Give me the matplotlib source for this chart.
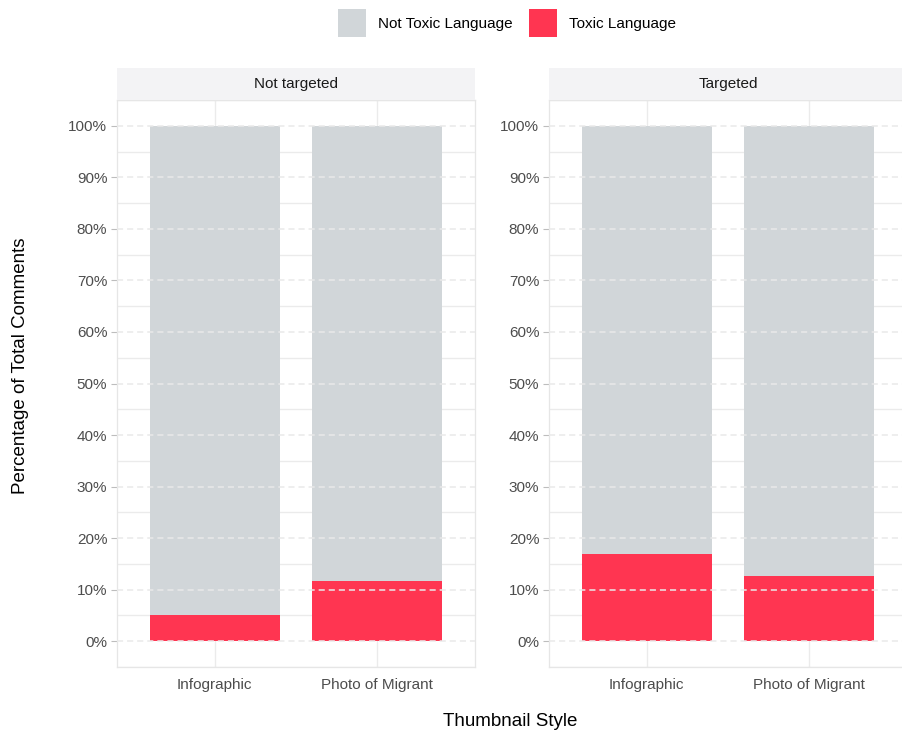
import matplotlib
matplotlib.use("Agg")
import matplotlib.pyplot as plt
from matplotlib.patches import Patch
from matplotlib.ticker import MultipleLocator, FuncFormatter

plt.rcParams["font.family"] = ["Liberation Sans", "DejaVu Sans"]

# share of comments per thumbnail style, in percent
styles = ["Infographic", "Photo of Migrant"]
panels = ["Not targeted", "Targeted"]
toxic = {"Not targeted": [5.0, 11.7], "Targeted": [16.9, 12.7]}
not_toxic = {"Not targeted": [95.0, 88.3], "Targeted": [83.1, 87.3]}

grey = "#d1d6d9"
red = "#ff3551"
W, H = 903, 735

fig = plt.figure(figsize=(W / 100, H / 100), dpi=100)

def px(x0, y0, x1, y1):
    # pixel box -> figure fraction rect
    return [x0 / W, 1 - y1 / H, (x1 - x0) / W, (y1 - y0) / H]

lefts = [117, 549]
for name, left in zip(panels, lefts):
    ax = fig.add_axes(px(left, 100, left + 358, 667))
    xs = [1, 2]
    ax.bar(xs, toxic[name], width=0.8, color=red, zorder=2)
    ax.bar(xs, not_toxic[name], bottom=toxic[name], width=0.8, color=grey, zorder=2)
    ax.set_xlim(0.4, 2.6)
    ax.set_ylim(-5, 105)
    ax.set_xticks(xs)
    ax.set_xticklabels(styles)
    ax.yaxis.set_major_locator(MultipleLocator(10))
    ax.yaxis.set_minor_locator(MultipleLocator(5))
    ax.yaxis.set_major_formatter(FuncFormatter(lambda v, p: f"{v:.0f}%"))
    ax.tick_params(axis="y", which="major", length=4, color="#bdbdbd",
                   labelsize=11, labelcolor="#4d4d4d", pad=3)
    ax.tick_params(axis="y", which="minor", length=0)
    ax.tick_params(axis="x", length=0, labelsize=11, labelcolor="#4d4d4d", pad=8)
    # solid minor + vertical grid under the bars
    ax.set_axisbelow(True)
    ax.grid(axis="y", which="minor", color="#ebebeb", lw=1)
    ax.grid(axis="x", which="major", color="#ebebeb", lw=1)
    # dashed major lines on top of the bars
    for v in range(0, 101, 10):
        ax.axhline(v, color="#e9e9e9", lw=1.1, dashes=(4, 2.6), zorder=3)
    for s in ax.spines.values():
        s.set_color("#e6e6e6")
        s.set_linewidth(0.9)

    strip = fig.add_axes(px(left, 68, left + 358, 100))
    strip.set_facecolor("#f3f3f5")
    strip.set_xticks([])
    strip.set_yticks([])
    for s in strip.spines.values():
        s.set_visible(False)
    strip.text(0.5, 0.5, name, ha="center", va="center", fontsize=11, color="#1a1a1a")

handles = [Patch(facecolor=grey, label="Not Toxic Language"),
           Patch(facecolor=red, label="Toxic Language")]
fig.legend(handles=handles, loc="center", bbox_to_anchor=(507 / W, 1 - 23 / H),
           ncol=2, frameon=False, fontsize=11, handlelength=1.85, handleheight=2.4,
           handletextpad=0.8, columnspacing=1.05)

fig.text(21 / W, 1 - 366 / H, "Percentage of Total Comments", rotation=90,
         ha="center", va="center", fontsize=13.5)
fig.text(510 / W, 1 - 722 / H, "Thumbnail Style", ha="center", va="center", fontsize=13.5)

fig.savefig("out.png", dpi=100, facecolor="white")
